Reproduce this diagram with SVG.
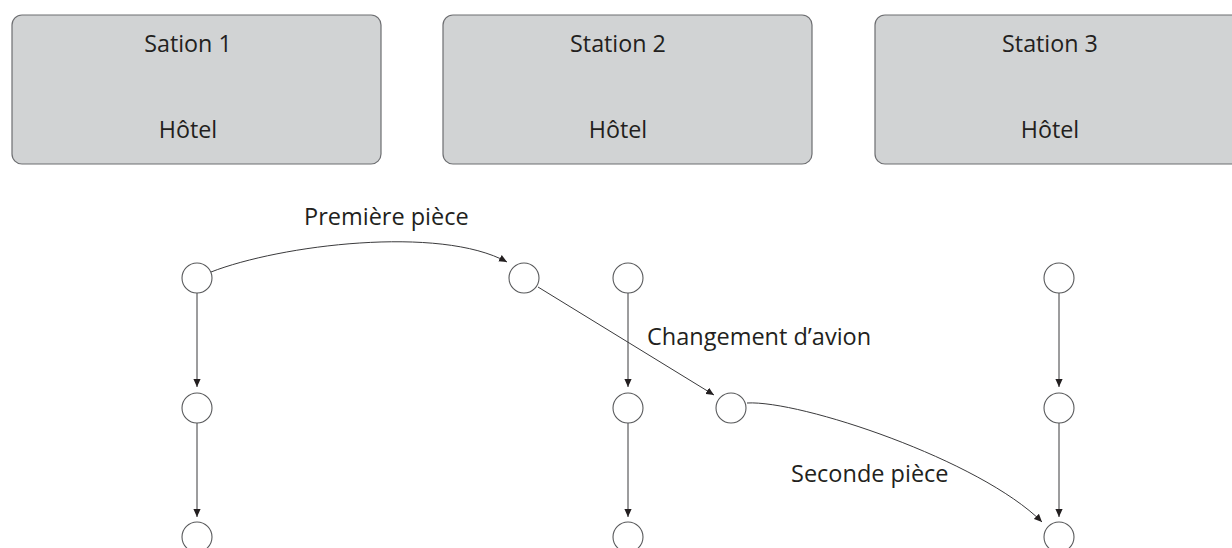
<svg xmlns="http://www.w3.org/2000/svg" width="1232" height="548" viewBox="0 0 1232 548">
<style>
.box{fill:#d1d3d4;stroke:#6d6e71;stroke-width:1.2}
.lbl{font-family:"Open Sans","Noto Sans",sans-serif;font-size:23.3px;fill:#231f20;text-anchor:middle}
.cap{font-family:"Open Sans","Noto Sans",sans-serif;font-size:23.5px;fill:#231f20}
.node{fill:#fff;stroke:#58595b;stroke-width:1.1}
.edge{fill:none;stroke:#3a3a3c;stroke-width:1;marker-end:url(#ah)}
</style>
<defs>
<marker id="ah" viewBox="0 0 10 10" refX="10" refY="5" markerWidth="8" markerHeight="8" markerUnits="userSpaceOnUse" orient="auto">
<path d="M0,0.5 L10,5 L0,9.5 Z" fill="#231f20"/>
</marker>
</defs>
<rect width="1232" height="548" fill="#fff"/>
<g id="station1">
<rect class="box" x="12" y="15" width="369" height="149" rx="10"/>
<text class="lbl" x="188" y="52">Sation 1</text>
<text class="lbl" x="188" y="138">Hôtel</text>
</g>
<g id="station2">
<rect class="box" x="443" y="15" width="369" height="149" rx="10"/>
<text class="lbl" x="618" y="52">Station 2</text>
<text class="lbl" x="618" y="138">Hôtel</text>
</g>
<g id="station3">
<rect class="box" x="875" y="15" width="369" height="149" rx="10"/>
<text class="lbl" x="1050" y="52">Station 3</text>
<text class="lbl" x="1050" y="138">Hôtel</text>
</g>
<g id="connectors">
<line class="edge" x1="197" y1="293" x2="197" y2="387"/>
<line class="edge" x1="197" y1="423" x2="197" y2="517"/>
<line class="edge" x1="628" y1="293" x2="628" y2="387"/>
<line class="edge" x1="628" y1="423" x2="628" y2="517"/>
<line class="edge" x1="1059" y1="293" x2="1059" y2="387"/>
<line class="edge" x1="1059" y1="423" x2="1059" y2="517"/>
<path class="edge" d="M211,272 C280,245 440,225 507,262"/>
<path class="edge" d="M538,287 L714,395"/>
<path class="edge" d="M747,403 C800,400 980,460 1042,522"/>
</g>
<g id="n1a"><circle class="node" cx="197" cy="278" r="15"/></g>
<g id="n1b"><circle class="node" cx="197" cy="408" r="15"/></g>
<g id="n1c"><circle class="node" cx="197" cy="537" r="15"/></g>
<g id="n2a"><circle class="node" cx="524" cy="278" r="15"/></g>
<g id="n3a"><circle class="node" cx="628" cy="278" r="15"/></g>
<g id="n3b"><circle class="node" cx="628" cy="408" r="15"/></g>
<g id="n3c"><circle class="node" cx="628" cy="537" r="15"/></g>
<g id="n4"><circle class="node" cx="731" cy="408" r="15"/></g>
<g id="n5a"><circle class="node" cx="1059" cy="278" r="15"/></g>
<g id="n5b"><circle class="node" cx="1059" cy="408" r="15"/></g>
<g id="n5c"><circle class="node" cx="1059" cy="537" r="15"/></g>
<g id="labels">
<text class="cap" x="304" y="225">Première pièce</text>
<text class="cap" x="647" y="345">Changement d’avion</text>
<text class="cap" x="791" y="482">Seconde pièce</text>
</g>
</svg>
